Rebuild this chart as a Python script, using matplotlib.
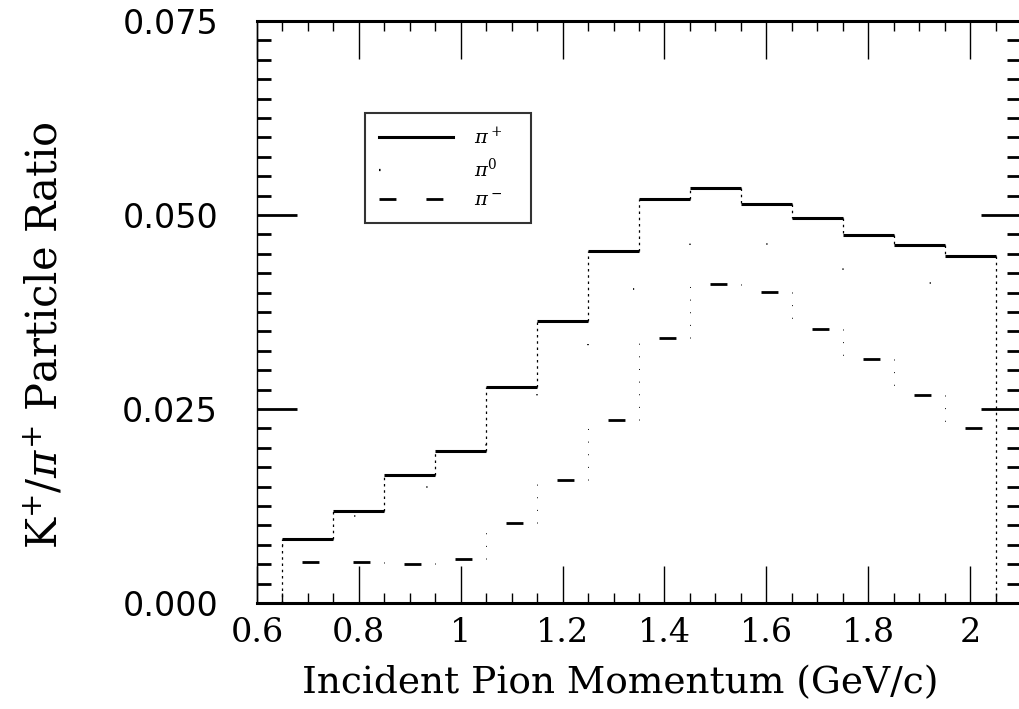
import matplotlib
matplotlib.use("Agg")
import matplotlib.pyplot as plt
from matplotlib.ticker import MultipleLocator, FixedLocator

# bin edges (GeV/c) and K+/pi+ ratio per bin
bin_edges = [0.65, 0.75, 0.85, 0.95, 1.05, 1.15, 1.25, 1.35,
             1.45, 1.55, 1.65, 1.75, 1.85, 1.95, 2.05]
ratio_pip = [0.0083, 0.0119, 0.0165, 0.0196, 0.0278, 0.0364, 0.0453,
             0.0521, 0.0535, 0.0514, 0.0496, 0.0474, 0.0461, 0.0447]
ratio_pi0 = [0.0075, 0.0112, 0.0150, 0.0186, 0.0260, 0.0330, 0.0405,
             0.0460, 0.0478, 0.0462, 0.0445, 0.0425, 0.0412, 0.0398]
ratio_pim = [0.0053, 0.0053, 0.0050, 0.0057, 0.0103, 0.0158, 0.0236,
             0.0342, 0.0411, 0.0401, 0.0353, 0.0314, 0.0268, 0.0226]

x_ticks = [0.6, 0.8, 1.0, 1.2, 1.4, 1.6, 1.8, 2.0]
x_ticklabels = ['0.6', '0.8', '1', '1.2', '1.4', '1.6', '1.8', '2']
y_ticks = [0.0, 0.025, 0.05, 0.075]
y_ticklabels = ['0.000', '0.025', '0.050', '0.075']

plt.rcParams['mathtext.fontset'] = 'dejavuserif'

fig = plt.figure(figsize=(10.19, 7.09), dpi=100)
ax = fig.add_axes([0.2522, 0.1495, 0.7498, 0.8209])

lefts = bin_edges[:-1]
rights = bin_edges[1:]

# pi+ : thick horizontals, faint verticals (as in the scan)
ax.hlines(ratio_pip, lefts, rights, color='k', linewidth=2.2)
ax.vlines(bin_edges, [0.0] + ratio_pip, ratio_pip + [0.0], color='k',
          linewidth=0.9, linestyles=(0, (2, 3)))
line_pip, = ax.plot([], [], color='k', linewidth=2.2, label=r'$\pi^+$')

# pi0 : sparse dotted step, almost invisible in the original
ax.stairs(ratio_pi0, bin_edges, baseline=None, color='k',
          linewidth=1.2, linestyle=(0, (0.7, 60)))
line_pi0, = ax.plot([], [], color='k', linewidth=1.6,
                    linestyle=(0, (0.7, 60)), label=r'$\pi^0$')

# pi- : one short dash per bin, barely visible verticals
ax.hlines(ratio_pim, lefts, rights, color='k', linewidth=2.0,
          linestyles=(12.2, (6.1, 13.3)))
ax.vlines(bin_edges[1:-1], ratio_pim[:-1], ratio_pim[1:], color='k',
          linewidth=0.7, linestyles=(0, (1, 12)))
line_pim, = ax.plot([], [], color='k', linewidth=2.0,
                    linestyle=(0, (6.1, 10.8)), label=r'$\pi^-$')

ax.set_xlim(0.6, 2.1)
ax.set_ylim(0.0, 0.075)

ax.xaxis.set_major_locator(FixedLocator(x_ticks))
ax.set_xticklabels(x_ticklabels, family='DejaVu Serif', fontsize=24)
ax.xaxis.set_minor_locator(MultipleLocator(0.05))
ax.yaxis.set_major_locator(FixedLocator(y_ticks))
ax.set_yticklabels(y_ticklabels, family='DejaVu Sans', fontsize=24)
ax.yaxis.set_minor_locator(MultipleLocator(0.0025))

ax.tick_params(axis='x', which='major', direction='in', top=True,
               bottom=True, length=27, width=1.0, pad=10)
ax.tick_params(axis='x', which='minor', direction='in', top=True,
               bottom=True, length=7, width=1.0)
ax.tick_params(axis='y', which='major', direction='in', left=True,
               right=True, length=29, width=2.0, pad=28)
ax.tick_params(axis='y', which='minor', direction='in', left=True,
               right=True, length=10, width=2.0)

ax.spines['top'].set_linewidth(2.2)
ax.spines['bottom'].set_linewidth(2.2)
ax.spines['left'].set_linewidth(1.0)
ax.spines['right'].set_linewidth(1.0)

xlab = ax.set_xlabel('Incident Pion Momentum (GeV/c)',
                     family='DejaVu Serif', fontsize=27)
xlab.set_va('center')
ax.xaxis.set_label_coords(0.475, -0.137)

fig.text(0.044, 0.527, r'K$^{+}$/$\pi^{+}$ Particle Ratio',
         rotation=90, family='DejaVu Serif', fontsize=30,
         ha='center', va='center')

leg = ax.legend(handles=[line_pip, line_pi0, line_pim],
                loc='upper left', bbox_to_anchor=(0.142, 0.842, 0.216, 0.0),
                mode='expand', borderaxespad=0, fontsize=14,
                handlelength=3.8, handletextpad=1.1, labelspacing=0.5,
                borderpad=0.7, fancybox=False, frameon=True)
leg.get_frame().set_edgecolor('k')
leg.get_frame().set_linewidth(1.5)

fig.savefig('out.png', dpi=100)
